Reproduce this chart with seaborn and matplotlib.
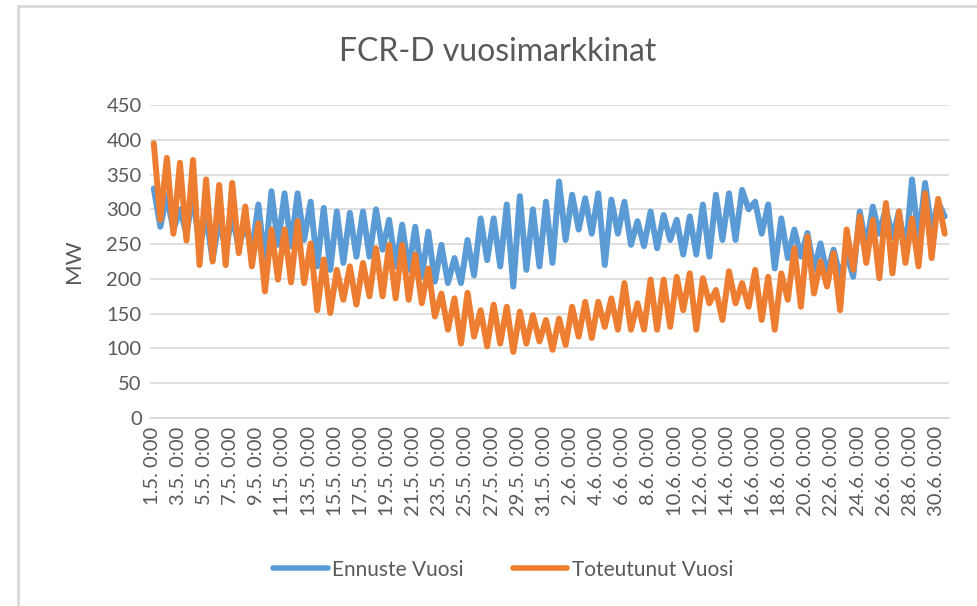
import matplotlib
matplotlib.use("Agg")
import matplotlib.pyplot as plt
from matplotlib.patches import Rectangle
import numpy as np
import pandas as pd
import seaborn as sns

# daily high / low, 1.5. - 30.6. (61 days)
ennuste_high = [330, 320, 300, 320, 290, 285, 290, 280, 307, 326, 323, 323, 311,
                302, 297, 295, 297, 300, 285, 278, 275, 268, 249, 230, 256,
                287, 287, 307, 319, 300, 311, 340, 321, 316, 323, 314, 311,
                283, 297, 292, 285, 290, 307, 321, 323, 328, 311, 307, 287,
                271, 266, 251, 242, 237, 297, 304, 302, 297, 343, 338, 310]
ennuste_low = [275, 270, 265, 245, 227, 242, 245, 240, 223, 249, 247, 256, 218,
               213, 223, 232, 232, 242, 218, 213, 203, 196, 194, 194, 205,
               227, 218, 189, 213, 218, 223, 256, 271, 265, 220, 265, 249,
               247, 244, 256, 235, 235, 232, 256, 256, 300, 265, 215, 230,
               232, 213, 208, 203, 203, 247, 265, 260, 237, 256, 271, 290]
toteutunut_high = [395, 374, 367, 371, 343, 335, 338, 304, 280, 271, 271, 283, 251,
                   228, 213, 218, 223, 244, 249, 249, 235, 215, 179, 172, 180,
                   155, 163, 160, 153, 148, 141, 143, 160, 167, 167, 172, 194,
                   165, 199, 199, 203, 208, 201, 184, 211, 194, 213, 203, 208,
                   244, 261, 225, 237, 271, 290, 285, 309, 297, 287, 323, 315]
toteutunut_low = [285, 265, 255, 220, 225, 220, 237, 218, 182, 199, 195, 194, 155,
                  151, 170, 163, 175, 175, 172, 170, 165, 146, 127, 107, 117,
                  103, 107, 95, 107, 110, 98, 105, 117, 115, 131, 127, 127,
                  127, 127, 131, 155, 127, 165, 141, 165, 160, 141, 127, 170,
                  160, 179, 189, 155, 213, 223, 201, 208, 223, 218, 230, 265]

series_names = ["Ennuste Vuosi", "Toteutunut Vuosi"]
colors = ["#5B9BD5", "#ED7D31"]
y_ticks = list(range(0, 451, 50))

start = pd.Timestamp("2022-05-01 00:00")
times = pd.date_range("2022-05-01 03:00", periods=2 * len(ennuste_high), freq="12h")
hours = (times - start) / pd.Timedelta(hours=1)


def interleave(high, low):
    out = np.empty(2 * len(high))
    out[0::2] = high
    out[1::2] = low
    return out


df = pd.concat([
    pd.DataFrame({"hour": hours, "MW": interleave(ennuste_high, ennuste_low), "sarja": series_names[0]}),
    pd.DataFrame({"hour": hours, "MW": interleave(toteutunut_high, toteutunut_low), "sarja": series_names[1]}),
])

sns.set_style("white")
plt.rcParams["font.family"] = ["Lato", "DejaVu Sans"]
text_col = "#595959"

fig = plt.figure(figsize=(9.77, 6.06), dpi=100)
ax = fig.add_axes([0.1535, 0.3102, 0.8179, 0.5165])

sns.lineplot(data=df, x="hour", y="MW", hue="sarja", palette=colors,
             linewidth=4.3, ax=ax, legend=False,
             solid_joinstyle="round", solid_capstyle="round")

# x ticks every second day at 0:00
tick_times = pd.date_range(start, "2022-06-30", freq="48h")
tick_pos = (tick_times - start) / pd.Timedelta(hours=1)
ax.set_xticks(tick_pos)
ax.set_xticklabels([f"{t.day}.{t.month}. 0:00" for t in tick_times],
                   rotation=90, fontsize=14.5, color=text_col)
ax.set_xlim(-4, 1463)

ax.set_ylim(0, 450)
ax.set_yticks(y_ticks)
ax.set_yticklabels([str(v) for v in y_ticks], fontsize=14.5, color=text_col)
ax.tick_params(axis="both", length=0, pad=6)
ax.yaxis.grid(True, color="#D9D9D9", linewidth=1.2)
ax.xaxis.grid(False)
for s in ["top", "right", "left"]:
    ax.spines[s].set_visible(False)
ax.spines["bottom"].set_color("#D9D9D9")
ax.spines["bottom"].set_linewidth(1.2)

ax.set_xlabel("")
ax.set_ylabel("MW", fontsize=16, color=text_col, labelpad=16)

fig.text(0.509, 0.915, "FCR-D vuosimarkkinat", ha="center", va="center",
         fontsize=23, color=text_col)

handles = [plt.Line2D([], [], color=c, linewidth=4, solid_capstyle="round") for c in colors]
fig.legend(handles, series_names, loc="center", bbox_to_anchor=(0.515, 0.06),
           ncol=2, frameon=False, fontsize=15, handlelength=2.6,
           handletextpad=0.2, columnspacing=2.4, labelcolor=text_col)

# chart area border (only left and top edges visible in the crop)
fig.patches.append(Rectangle((18 / 977, -0.1), 1.2, (606 - 6) / 606 + 0.1,
                             transform=fig.transFigure, fill=False,
                             edgecolor="#D9D9D9", linewidth=2))

fig.savefig("out.png", dpi=100, facecolor="white")
